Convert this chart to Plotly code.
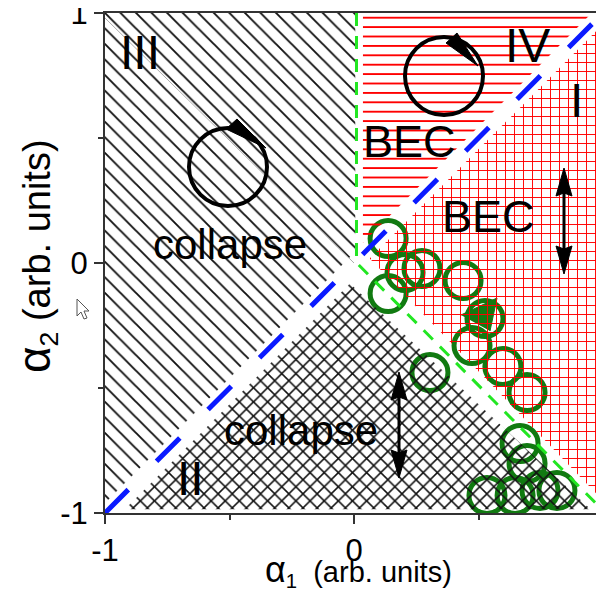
import plotly.graph_objects as go

# ---------------- data (axis units) ----------------
circle_x = [0.137, 0.205, 0.273, 0.137, 0.438, 0.526, 0.474, 0.598, 0.695, 0.305, 0.667, 0.695, 0.534, 0.647, 0.747, 0.815]
circle_y = [0.098, -0.038, -0.022, -0.122, -0.070, -0.222, -0.330, -0.414, -0.518, -0.438, -0.722, -0.802, -0.930, -0.930, -0.910, -0.910]

region_III_x = [-1.0, -1.0, 0.005, 0.005]
region_III_y = [-0.96, 1.0, 1.0, 0.045]
region_IV_x = [0.036, 0.036, 0.955]
region_IV_y = [0.081, 1.0, 1.0]
region_I_x = [0.063, 1.0, 1.0]
region_I_y = [0.018, 0.955, -0.95]
region_II_x = [-0.92, -0.016, 0.95]
region_II_y = [-0.985, -0.082, -0.985]

blue_x = [-1.0, 1.0]
blue_y = [-1.0, 1.0]
green_x = [0.01, 0.01, 1.01]
green_y = [1.0, 0.001, -1.0]
gray_x = [-1.0, 0.0]
gray_y = [0.98, 0.0]

tick_vals = [-1, 0, 1]
tick_text = ["-1", "0", "1"]

# ---------------- geometry helpers (window pixels; page body has an 8px margin) ----------------
OFF = 8
W, H = 604 - OFF, 597 - OFF
PL, PR, PT, PB = 105, 603, 13, 513          # plot area in window pixels
ML, MR, MT, MB = PL - OFF, (OFF + W) - PR, PT - OFF, (OFF + H) - PB
PW, PH = PR - PL, PB - PT


def X(px):
    return (px - PL) / PW * 2 - 1


def Y(py):
    return 1 - (py - PT) / PH * 2


def PX(px):
    return (px - PL) / PW


def PY(py):
    return (PB - py) / PH


def path(points):
    return "M " + " L ".join(f"{X(a):.4f},{Y(b):.4f}" for a, b in points) + " Z"


GREEN = "#117a11"
FONT = "Liberation Sans, Arial, sans-serif"

fig = go.Figure()

# trajectory circles (under the hatching)
fig.add_trace(go.Scatter(x=circle_x, y=circle_y, mode="markers",
                         marker=dict(symbol="circle-open", size=36, color=GREEN,
                                     line=dict(width=5, color=GREEN)),
                         hoverinfo="skip"))

# green arrow head on trajectory
tri = [(461, 315), (497, 298), (490, 331)]
fig.add_trace(go.Scatter(x=[X(p[0]) for p in tri], y=[Y(p[1]) for p in tri], mode="lines",
                         fill="toself", fillcolor=GREEN, line=dict(color=GREEN, width=1),
                         hoverinfo="skip"))


def hatch(xs, ys, shape, color, size, sol):
    fig.add_trace(go.Scatter(x=xs, y=ys, mode="lines", fill="toself",
                             line=dict(width=0, color="rgba(0,0,0,0)"),
                             fillcolor="rgba(255,255,255,0)",
                             fillpattern=dict(shape=shape, fgcolor=color, bgcolor="rgba(255,255,255,0)",
                                              size=size, solidity=sol, fillmode="replace"),
                             hoverinfo="skip"))


hatch(region_III_x, region_III_y, "\\", "#111111", 11, 0.17)
hatch(region_II_x, region_II_y, "x", "#111111", 10, 0.28)
hatch(region_IV_x, region_IV_y, "-", "#ff0000", 9.4, 0.2)
hatch(region_I_x, region_I_y, "+", "#ff0000", 9, 0.2)

fig.add_trace(go.Scatter(x=gray_x, y=gray_y, mode="lines", line=dict(color="#aaaaaa", width=1), hoverinfo="skip"))
fig.add_trace(go.Scatter(x=blue_x, y=blue_y, mode="lines",
                         line=dict(color="#0a1aff", width=5, dash="33px,40px"), hoverinfo="skip"))
fig.add_trace(go.Scatter(x=green_x, y=green_y, mode="lines",
                         line=dict(color="#22e622", width=3, dash="13px,10px"), hoverinfo="skip"))

shapes = []
# black rotation circles
for cx, cy, wedge in [(228, 167, [(226, 129), (237, 119), (266, 148)]),
                      (444, 76, [(446, 43), (457, 33), (478, 66)])]:
    r = 39
    shapes.append(dict(type="circle", xref="x", yref="y", x0=X(cx - r), x1=X(cx + r),
                       y0=Y(cy + r), y1=Y(cy - r), line=dict(color="black", width=4)))
    shapes.append(dict(type="path", xref="x", yref="y", path=path(wedge),
                       fillcolor="black", line=dict(color="black", width=1)))

# double arrows
for ax, y1, y2 in [(564, 168, 274), (399, 372, 478)]:
    hl, hw = 28, 8
    shapes.append(dict(type="line", xref="x", yref="y", x0=X(ax), x1=X(ax), y0=Y(y1 + 10), y1=Y(y2 - 10),
                       line=dict(color="black", width=3)))
    shapes.append(dict(type="path", xref="x", yref="y",
                       path=path([(ax, y1), (ax - hw, y1 + hl), (ax, y1 + hl - 3), (ax + hw, y1 + hl)]),
                       fillcolor="black", line=dict(color="black", width=1)))
    shapes.append(dict(type="path", xref="x", yref="y",
                       path=path([(ax, y2), (ax - hw, y2 - hl), (ax, y2 - hl + 3), (ax + hw, y2 - hl)]),
                       fillcolor="black", line=dict(color="black", width=1)))

# mouse cursor glyph
cur = [(0, 0), (0, 17), (4, 13), (7, 20), (10, 19), (7, 12), (12, 12)]
cx0, cy0 = 77, 299
shapes.append(dict(type="path", xref="paper", yref="paper",
                   path="M " + " L ".join(f"{PX(cx0 + a):.4f},{PY(cy0 + b):.4f}" for a, b in cur) + " Z",
                   fillcolor="white", line=dict(color="#555555", width=1)))

annotations = []
for txt, px, py, fs in [("III", 140, 52, 48), ("IV", 527, 45, 48), ("I", 576, 100, 48), ("II", 190, 478, 48),
                        ("BEC", 409, 141, 45), ("BEC", 488, 216, 45),
                        ("collapse", 230, 244, 42), ("collapse", 301, 430, 42)]:
    annotations.append(dict(text=txt, x=X(px), y=Y(py), xref="x", yref="y", showarrow=False,
                            font=dict(family=FONT, size=fs, color="black"),
                            xanchor="center", yanchor="middle"))

annotations.append(dict(text="<span style='font-size:46px'>α</span><sub>2</sub> (arb. units)",
                        x=PX(36), y=PY(256), xref="paper", yref="paper", showarrow=False, textangle=-90,
                        font=dict(family=FONT, size=38, color="black"), xanchor="center", yanchor="middle"))
annotations.append(dict(text="<span style='font-size:36px'>α</span><sub>1</sub>  (arb. units)",
                        x=PX(358), y=PY(570), xref="paper", yref="paper", showarrow=False,
                        font=dict(family=FONT, size=29, color="black"), xanchor="center", yanchor="middle"))

axis_common = dict(range=[-1, 1], tickvals=tick_vals, ticktext=tick_text, ticks="outside", ticklen=9,
                   tickwidth=2, tickcolor="#333333", showline=True, linecolor="#333333", linewidth=2,
                   mirror=True, showgrid=False, zeroline=False, automargin=False,
                   ticklabeloverflow="allow",
                   tickfont=dict(family=FONT, size=31, color="black"),
                   minor=dict(dtick=0.5, tick0=0, ticks="outside", ticklen=5, tickwidth=2, tickcolor="#333333"))

fig.update_layout(width=W, height=H, margin=dict(l=ML, r=MR, t=MT, b=MB, pad=0, autoexpand=False),
                  paper_bgcolor="white", plot_bgcolor="white", showlegend=False,
                  xaxis=dict(**axis_common), yaxis=dict(**axis_common),
                  shapes=shapes, annotations=annotations)

fig.write_html("out.html")
